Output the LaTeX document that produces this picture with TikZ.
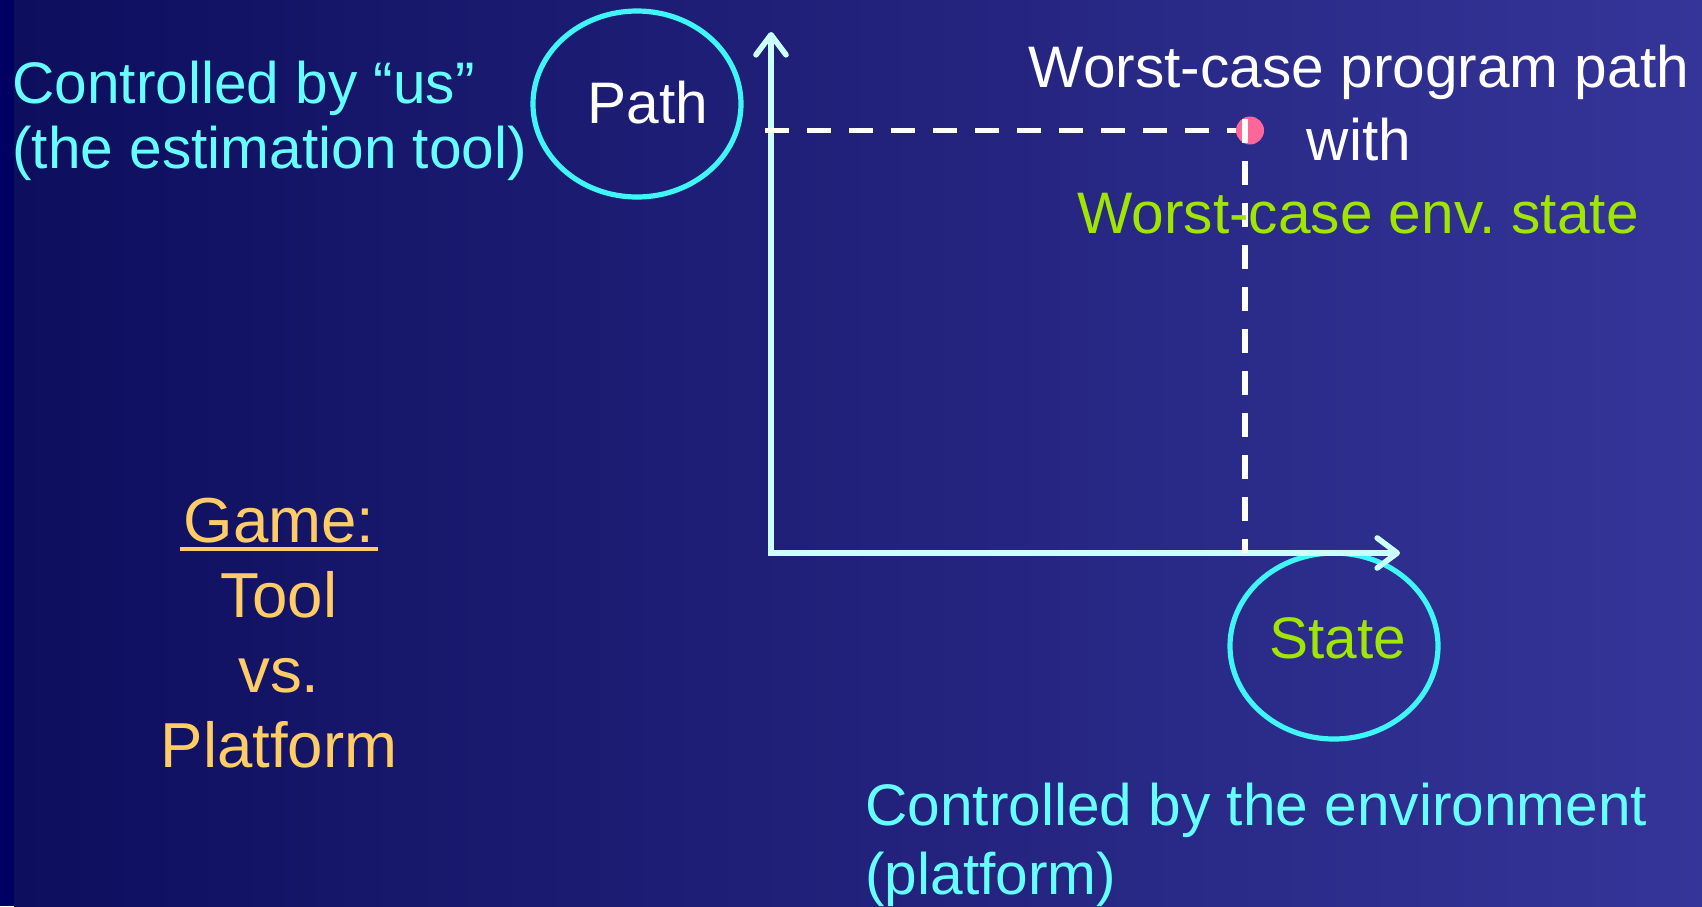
\documentclass[tikz,border=0pt]{standalone}
\usepackage{fontspec}
\setmainfont{Liberation Sans}
\usetikzlibrary{shapes.geometric,arrows.meta}
\frenchspacing
\definecolor{bgl}{HTML}{0E0E5E}
\definecolor{bgr}{HTML}{353599}
\definecolor{bgstrip}{HTML}{000062}
\definecolor{cyantxt}{HTML}{66FFFF}
\definecolor{ringcol}{HTML}{40F5F5}
\definecolor{axiscol}{HTML}{CCFFFF}
\definecolor{greentxt}{HTML}{A0E600}
\definecolor{orangetxt}{HTML}{FFCC66}
\definecolor{dotcol}{HTML}{FF6699}
\begin{document}
\begin{tikzpicture}[x=0.5pt,y=-0.5pt,
  txt/.style={inner sep=0pt,font=\fontsize{29.3}{34}\selectfont},
  gametxt/.style={inner sep=0pt,font=\fontsize{31.8}{36}\selectfont,text=orangetxt,anchor=base},
  ring/.style={draw=ringcol,line width=2.6pt,ellipse,minimum width=104pt,minimum height=93pt,inner sep=0pt},
  axisline/.style={draw=axiscol,line width=2.8pt,{Straight Barb[length=10pt,width=15pt,round]}-{Straight Barb[length=10pt,width=15pt,round]}},
  dashline/.style={draw=white,line width=2.6pt,dash pattern=on 12pt off 9pt}]
\useasboundingbox (0,0) rectangle (1702,906);
\shade[left color=bgl,right color=bgr] (14,0) rectangle (1702,906);
\fill[bgstrip] (0,0) rectangle (14,906);
% ellipses
\node[ring] (pathring) at (637,104) {};
\node[ring] (statering) at (1334,646) {};
% axes
\coordinate (O) at (771,553);
\coordinate (ytip) at (771,32);
\coordinate (xtip) at (1400,553);
\draw[axisline] (ytip) -- (O) -- (xtip);
% dashed lines and dot
\coordinate (hstart) at (765,130.5);
\coordinate (vbot) at (1245,553);
\node[circle,fill=dotcol,minimum size=14pt,inner sep=0pt] (dot) at (1250,130.5) {};
\draw[dashline] (hstart) -- (dot.west);
\coordinate (vtop) at (1245,119);
\draw[dashline] (vtop) -- (vbot);
% texts
\node[txt,text=cyantxt,anchor=base west] (c1) at (12,103) {Controlled by “us”};
\node[txt,text=cyantxt,anchor=base west] (c2) at (12,168) {(the estimation tool)};
\node[txt,text=white,anchor=base west] (pathtxt) at (587,123) {Path};
\node[txt,text=white,anchor=base] (w1) at (1359,87) {Worst-case program path};
\node[txt,text=white,anchor=base] (w2) at (1359,160) {with};
\node[txt,text=greentxt,anchor=base] (w3) at (1358,233) {Worst-case env.\ state};
\node[txt,text=greentxt,anchor=base west] (statetxt) at (1269,658) {State};
\node[gametxt] (game) at (279,542) {Game:};
\draw[orangetxt,line width=2pt] ([xshift=-1.5pt,yshift=-3.5pt]game.base west) -- ([xshift=1.5pt,yshift=-3.5pt]game.base east);
\node[gametxt] (g2) at (279,617) {Tool};
\node[gametxt] (g3) at (279,692) {vs.};
\node[gametxt] (g4) at (279,767) {Platform};
\node[txt,text=cyantxt,anchor=base west] (e1) at (865,825) {Controlled by the environment};
\node[txt,text=cyantxt,anchor=base west] (e2) at (865,894) {(platform)};
\end{tikzpicture}
\end{document}
